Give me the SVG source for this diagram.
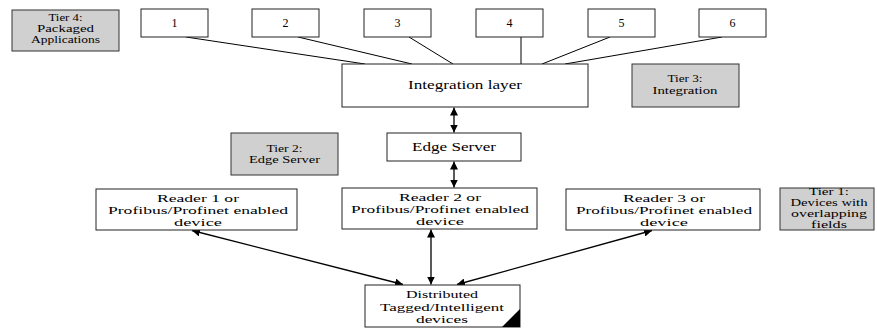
<svg xmlns="http://www.w3.org/2000/svg" width="877" height="329" viewBox="0 0 877 329">
<defs>
<style>
.box{fill:#fff;stroke:#222;stroke-width:1}
.tier{fill:#d0d0d0;stroke:#333;stroke-width:1}
text{font-family:"Liberation Serif","Times New Roman",serif;fill:#000;text-anchor:middle}
.t{font-size:12.5px}
.r{font-size:10.5px}
.d{font-size:11px}
.s{font-size:9.5px}
.n{font-size:12px}
.ln{stroke:#000;stroke-width:1;fill:none}
.ar{stroke:#000;stroke-width:1.3;fill:none;marker-start:url(#ah);marker-end:url(#ah)}
</style>
<marker id="ah" viewBox="0 0 10 10" refX="10" refY="5" markerWidth="8" markerHeight="8" markerUnits="userSpaceOnUse" orient="auto-start-reverse">
<path d="M0,0 L10,5 L0,10 z" fill="#000"/>
</marker>
</defs>
<rect width="877" height="329" fill="#fff"/>

<g id="connectors">
<line class="ln" x1="186" y1="37" x2="365" y2="64"/>
<line class="ln" x1="298" y1="37" x2="412" y2="64"/>
<line class="ln" x1="409" y1="37" x2="453" y2="64"/>
<line class="ln" x1="521" y1="37" x2="521" y2="64"/>
<line class="ln" x1="610" y1="37" x2="542" y2="64"/>
<line class="ln" x1="722" y1="37" x2="565" y2="64"/>
<line class="ar" x1="454" y1="107.5" x2="454" y2="132.5"/>
<line class="ar" x1="454" y1="161.5" x2="454" y2="187.5"/>
<line class="ar" x1="431" y1="229.5" x2="431" y2="284.5"/>
<line class="ar" x1="192" y1="230.5" x2="403" y2="284.5"/>
<line class="ar" x1="652" y1="230.5" x2="457" y2="284.5"/>
</g>

<g id="tier4">
<rect class="tier" x="12" y="10" width="107" height="41"/>
<text class="s" x="65.5" y="21" textLength="34" lengthAdjust="spacingAndGlyphs">Tier 4:</text>
<text class="s" x="65.5" y="32" textLength="57" lengthAdjust="spacingAndGlyphs">Packaged</text>
<text class="s" x="65.5" y="43" textLength="69" lengthAdjust="spacingAndGlyphs">Applications</text>
</g>

<g id="app1"><rect class="box" x="141" y="9" width="67" height="28"/><text class="n" x="174.5" y="27">1</text></g>
<g id="app2"><rect class="box" x="252" y="9" width="67" height="28"/><text class="n" x="285.5" y="27">2</text></g>
<g id="app3"><rect class="box" x="364" y="9" width="67" height="28"/><text class="n" x="397.5" y="27">3</text></g>
<g id="app4"><rect class="box" x="476" y="9" width="67" height="28"/><text class="n" x="509.5" y="27">4</text></g>
<g id="app5"><rect class="box" x="588" y="9" width="67" height="28"/><text class="n" x="621.5" y="27">5</text></g>
<g id="app6"><rect class="box" x="699" y="9" width="67" height="28"/><text class="n" x="732.5" y="27">6</text></g>

<g id="integration">
<rect class="box" x="342" y="64" width="246" height="43"/>
<text class="t" x="465" y="89" textLength="114" lengthAdjust="spacingAndGlyphs">Integration layer</text>
</g>

<g id="tier3">
<rect class="tier" x="632" y="64" width="107" height="43"/>
<text class="s" x="685" y="82" textLength="35" lengthAdjust="spacingAndGlyphs">Tier 3:</text>
<text class="s" x="685" y="94" textLength="65" lengthAdjust="spacingAndGlyphs">Integration</text>
</g>

<g id="edge">
<rect class="box" x="387" y="133" width="134" height="28"/>
<text class="t" x="454" y="151" textLength="84" lengthAdjust="spacingAndGlyphs">Edge Server</text>
</g>

<g id="tier2">
<rect class="tier" x="231" y="133" width="107" height="42"/>
<text class="s" x="284.5" y="152" textLength="36" lengthAdjust="spacingAndGlyphs">Tier 2:</text>
<text class="s" x="284.5" y="163" textLength="71" lengthAdjust="spacingAndGlyphs">Edge Server</text>
</g>

<g id="reader1">
<rect class="box" x="96" y="189" width="201" height="41"/>
<text class="r" x="198" y="202" textLength="82" lengthAdjust="spacingAndGlyphs">Reader 1 or</text>
<text class="r" x="198" y="214" textLength="180" lengthAdjust="spacingAndGlyphs">Profibus/Profinet enabled</text>
<text class="r" x="198" y="226" textLength="48" lengthAdjust="spacingAndGlyphs">device</text>
</g>

<g id="reader2">
<rect class="box" x="342" y="188" width="195" height="41"/>
<text class="r" x="440" y="201" textLength="82" lengthAdjust="spacingAndGlyphs">Reader 2 or</text>
<text class="r" x="440" y="213" textLength="178" lengthAdjust="spacingAndGlyphs">Profibus/Profinet enabled</text>
<text class="r" x="440" y="225" textLength="48" lengthAdjust="spacingAndGlyphs">device</text>
</g>

<g id="reader3">
<rect class="box" x="566" y="189" width="194" height="41"/>
<text class="r" x="664" y="202" textLength="82" lengthAdjust="spacingAndGlyphs">Reader 3 or</text>
<text class="r" x="664" y="214" textLength="176" lengthAdjust="spacingAndGlyphs">Profibus/Profinet enabled</text>
<text class="r" x="664" y="226" textLength="48" lengthAdjust="spacingAndGlyphs">device</text>
</g>

<g id="tier1">
<rect class="tier" x="780" y="188" width="94" height="42"/>
<text class="s" x="829" y="195" textLength="40" lengthAdjust="spacingAndGlyphs">Tier 1:</text>
<text class="s" x="829" y="206" textLength="77" lengthAdjust="spacingAndGlyphs">Devices with</text>
<text class="s" x="829" y="217" textLength="76" lengthAdjust="spacingAndGlyphs">overlapping</text>
<text class="s" x="829" y="228" textLength="36" lengthAdjust="spacingAndGlyphs">fields</text>
</g>

<g id="distributed">
<rect class="box" x="365" y="285" width="155" height="42"/>
<path d="M520,309 L520,327 L502,327 z" fill="#000"/>
<text class="d" x="442" y="298" textLength="72" lengthAdjust="spacingAndGlyphs">Distributed</text>
<text class="d" x="442" y="311" textLength="124" lengthAdjust="spacingAndGlyphs">Tagged/Intelligent</text>
<text class="d" x="442" y="323" textLength="52" lengthAdjust="spacingAndGlyphs">devices</text>
</g>
</svg>
